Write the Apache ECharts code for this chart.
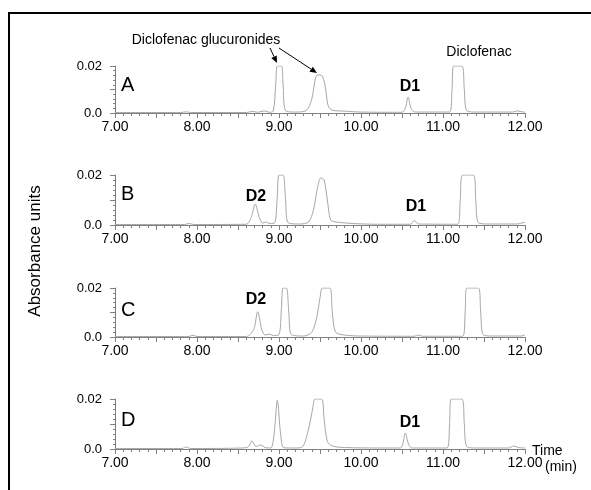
<!DOCTYPE html>
<html>
<head>
<meta charset="utf-8">
<script src="https://cdn.jsdelivr.net/npm/echarts@6/dist/echarts.min.js"></script>
<style>
  html, body { margin: 0; padding: 0; background: #fff; }
  #chart { width: 591px; height: 490px; }
</style>
</head>
<body>
<div id="chart"></div>
<script>
// retention time (min) and absorbance for each chromatogram
var timeA = [7.00, 7.80, 7.87, 7.92, 8.60, 8.68, 8.74, 8.82, 8.88, 8.93, 8.96, 8.98, 9.03, 9.05, 9.08, 9.20, 9.33, 9.40, 9.44, 9.47, 9.52, 9.56, 9.60, 9.65, 9.80, 10.00, 10.50, 10.54, 10.575, 10.61, 10.66, 11.08, 11.11, 11.13, 11.23, 11.26, 11.29, 11.40, 11.85, 11.90, 11.95, 12.00];
var absA  = [0.0002, 0.0002, 0.0005, 0.0002, 0.0002, 0.0007, 0.0003, 0.0009, 0.0003, 0.0008, 0.012, 0.02, 0.02, 0.012, 0.001, 0.0004, 0.001, 0.006, 0.014, 0.0162, 0.016, 0.012, 0.003, 0.0012, 0.0008, 0.0004, 0.0003, 0.002, 0.0068, 0.002, 0.0004, 0.0004, 0.01, 0.02, 0.02, 0.01, 0.001, 0.0004, 0.0004, 0.0009, 0.0006, 0.0003];

var timeB = [7.00, 7.85, 7.90, 7.96, 8.60, 8.66, 8.71, 8.76, 8.80, 8.84, 8.89, 8.95, 8.98, 9.00, 9.05, 9.08, 9.11, 9.25, 9.36, 9.42, 9.47, 9.51, 9.55, 9.59, 9.63, 9.70, 9.90, 10.20, 10.60, 10.65, 10.70, 11.18, 11.21, 11.24, 11.37, 11.40, 11.43, 11.55, 11.90, 12.00];
var absB  = [0.0002, 0.0002, 0.0006, 0.0002, 0.0003, 0.003, 0.0084, 0.003, 0.0008, 0.0012, 0.0006, 0.001, 0.012, 0.02, 0.02, 0.01, 0.001, 0.0004, 0.0012, 0.006, 0.015, 0.0188, 0.018, 0.01, 0.002, 0.0012, 0.0006, 0.0003, 0.0003, 0.0018, 0.0004, 0.0003, 0.01, 0.02, 0.02, 0.01, 0.001, 0.0004, 0.0004, 0.0012];

var timeC = [7.00, 7.90, 7.95, 8.00, 8.60, 8.69, 8.74, 8.79, 8.83, 8.88, 8.93, 9.00, 9.03, 9.05, 9.09, 9.12, 9.15, 9.30, 9.40, 9.46, 9.50, 9.53, 9.62, 9.65, 9.69, 9.80, 10.00, 10.65, 10.70, 10.75, 11.24, 11.27, 11.29, 11.43, 11.46, 11.49, 11.60, 11.95, 12.00];
var absC  = [0.0002, 0.0002, 0.0007, 0.0002, 0.0002, 0.003, 0.0103, 0.003, 0.0008, 0.0012, 0.0006, 0.001, 0.012, 0.02, 0.02, 0.01, 0.001, 0.0004, 0.002, 0.008, 0.016, 0.02, 0.02, 0.01, 0.002, 0.0008, 0.0004, 0.0003, 0.0008, 0.0003, 0.0003, 0.01, 0.02, 0.02, 0.01, 0.001, 0.0004, 0.0004, 0.0009];

var timeD = [7.00, 7.82, 7.87, 7.92, 8.55, 8.63, 8.67, 8.72, 8.78, 8.83, 8.90, 8.94, 8.98, 9.02, 9.06, 9.20, 9.29, 9.36, 9.41, 9.44, 9.52, 9.55, 9.59, 9.65, 9.80, 10.20, 10.48, 10.51, 10.54, 10.58, 10.62, 11.05, 11.08, 11.10, 11.23, 11.26, 11.29, 11.40, 11.80, 11.86, 11.92, 12.00];
var absD  = [0.0002, 0.0002, 0.0008, 0.0002, 0.0004, 0.001, 0.0033, 0.001, 0.0016, 0.0006, 0.0004, 0.006, 0.0195, 0.006, 0.0005, 0.0004, 0.001, 0.008, 0.016, 0.02, 0.02, 0.012, 0.003, 0.0012, 0.0006, 0.0004, 0.0004, 0.002, 0.0064, 0.002, 0.0004, 0.0004, 0.01, 0.02, 0.02, 0.01, 0.001, 0.0004, 0.0004, 0.0012, 0.0006, 0.0004];

var panelNames = ['A', 'B', 'C', 'D'];
var yTickLabels = ['0.0', '0.02'];

var times = [timeA, timeB, timeC, timeD];
var values = [absA, absB, absC, absD];

var gridTops = [66, 175, 288, 399];
var gridHeights = [47, 50, 49, 50];
var font = 'Liberation Sans, Arial, Helvetica, sans-serif';
var axisGray = '#808080';

var grids = [], xAxes = [], yAxes = [], series = [];

panelNames.forEach(function (name, i) {
    grids.push({ left: 115, width: 410, top: gridTops[i], height: gridHeights[i] });

    xAxes.push({
        type: 'value',
        gridIndex: i,
        min: 7,
        max: 12,
        interval: 0.5,
        axisLine: { lineStyle: { color: axisGray, width: 1 } },
        axisTick: { length: 5, lineStyle: { color: axisGray } },
        minorTick: { show: true, splitNumber: 5, length: 3, lineStyle: { color: axisGray } },
        splitLine: { show: false },
        axisLabel: {
            margin: 7,
            color: '#000',
            fontSize: 14,
            fontFamily: font,
            formatter: function (v) {
                return Math.abs(v - Math.round(v)) < 1e-6 ? v.toFixed(2) : '';
            }
        }
    });

    yAxes.push({
        type: 'value',
        gridIndex: i,
        min: 0,
        max: 0.02,
        interval: 0.01,
        axisLine: { show: true, lineStyle: { color: axisGray, width: 1 } },
        axisTick: { length: 5, lineStyle: { color: axisGray } },
        minorTick: { show: true, splitNumber: 5, length: 2, lineStyle: { color: axisGray } },
        splitLine: { show: false },
        axisLabel: {
            margin: 13,
            color: '#000',
            fontSize: 13,
            fontFamily: font,
            formatter: function (v) {
                if (v === 0) return yTickLabels[0];
                if (Math.abs(v - 0.02) < 1e-9) return yTickLabels[1];
                return '';
            }
        }
    });

    series.push({
        name: name,
        type: 'line',
        xAxisIndex: i,
        yAxisIndex: i,
        showSymbol: false,
        smooth: 0.3,
        lineStyle: { color: '#a6a6a6', width: 1 },
        data: times[i].map(function (t, k) { return [t, values[i][k]]; })
    });
});

function label(text, x, y, size, bold, align) {
    return {
        type: 'text',
        x: x, y: y,
        style: {
            text: text,
            fill: '#000',
            font: (bold ? 'bold ' : '') + size + 'px ' + font,
            align: align || 'center',
            verticalAlign: 'middle'
        }
    };
}

function arrow(x1, y1, x2, y2) {
    var dx = x2 - x1, dy = y2 - y1;
    var len = Math.sqrt(dx * dx + dy * dy);
    var ux = dx / len, uy = dy / len;
    var hl = 7, hw = 3;
    var bx = x2 - ux * hl, by = y2 - uy * hl;
    return [{
        type: 'line',
        shape: { x1: x1, y1: y1, x2: bx, y2: by },
        style: { stroke: '#000', lineWidth: 1 }
    }, {
        type: 'polygon',
        shape: { points: [[x2, y2], [bx - uy * hw, by + ux * hw], [bx + uy * hw, by - ux * hw]] },
        style: { fill: '#000' }
    }];
}

var graphics = [
    { type: 'line', shape: { x1: 9, y1: 13, x2: 591, y2: 13 }, style: { stroke: '#000', lineWidth: 2 } },
    { type: 'line', shape: { x1: 9, y1: 12, x2: 9, y2: 490 }, style: { stroke: '#000', lineWidth: 2 } },
    label('Diclofenac glucuronides', 206, 40, 14),
    label('Diclofenac', 479, 52, 14),
    label('A', 121, 85, 20, false, 'left'),
    label('B', 121, 194, 20, false, 'left'),
    label('C', 121, 310, 20, false, 'left'),
    label('D', 121, 420, 20, false, 'left'),
    label('D1', 410, 87, 16, true),
    label('D2', 256, 197, 16, true),
    label('D1', 416, 207, 16, true),
    label('D2', 256, 300, 16, true),
    label('D1', 410, 423, 16, true),
    label('Time', 532, 451, 14, false, 'left'),
    label('(min)', 545, 467, 14, false, 'left'),
    {
        type: 'text',
        x: 35, y: 251,
        rotation: Math.PI / 2,
        style: {
            text: 'Absorbance units',
            fill: '#000',
            font: '17px ' + font,
            align: 'center',
            verticalAlign: 'middle'
        }
    }
].concat(arrow(270, 48, 277, 63), arrow(279, 48, 317, 73));

var chart = echarts.init(document.getElementById('chart'));
chart.setOption({
    animation: false,
    backgroundColor: '#fff',
    grid: grids,
    xAxis: xAxes,
    yAxis: yAxes,
    series: series,
    graphic: graphics
});
</script>
</body>
</html>
